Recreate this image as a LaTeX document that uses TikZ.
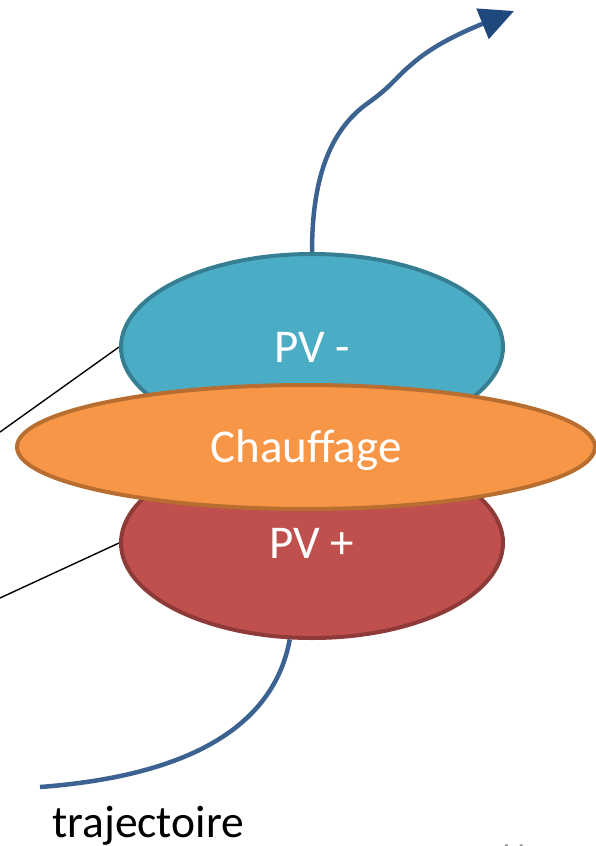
\documentclass[tikz,border=0pt]{standalone}
\usepackage{fontspec}
\setmainfont{Carlito}
\usetikzlibrary{shapes.geometric,arrows.meta,backgrounds}
\definecolor{bluefill}{HTML}{4BACC6}
\definecolor{bluedraw}{HTML}{367F93}
\definecolor{orfill}{HTML}{F79646}
\definecolor{ordraw}{HTML}{B86E30}
\definecolor{redfill}{HTML}{C0504D}
\definecolor{reddraw}{HTML}{8D3A38}
\definecolor{trajc}{HTML}{3B6291}
\definecolor{arrowc}{HTML}{1F497D}
\definecolor{pagenum}{HTML}{8C8C8C}
\tikzset{
  blob/.style={ellipse, line width=4pt, inner sep=0pt, text=white,
    font=\fontsize{47}{56}\selectfont, text height=30pt, text depth=0pt},
  traj/.style={draw=trajc, line width=4.5pt},
  leader/.style={draw=black, line width=1.4pt},
}
\begin{document}
\begin{tikzpicture}[x=1pt,y=-1pt]
\clip (0,0) rectangle (596,846);
% ellipses
\node[blob, fill=bluefill, draw=bluedraw, minimum width=382pt, minimum height=186pt] (pvm) at (312,347) {PV -};
\node[blob, fill=redfill, draw=reddraw, minimum width=382pt, minimum height=190pt] (pvp) at (312,543) {PV +};
\node[blob, fill=orfill, draw=ordraw, minimum width=578pt, minimum height=124pt] (ch) at (306,447) {Chauffage};
% free ends
\coordinate (tip) at (514,11);
\coordinate (tend) at (40,787);
\coordinate (l1) at (0,432);
\coordinate (l2) at (0,598);
% text
\node[anchor=base west, inner sep=0pt, font=\fontsize{45.5}{55}\selectfont] (traj) at (52,837) {trajectoire};
\node[anchor=base west, inner sep=0pt, text=pagenum, font=\fontsize{26}{30}\selectfont] (pnum) at (499,861) {14};
% connectors behind the ellipses
\begin{pgfonlayer}{background}
\draw[traj, -{Triangle[length=34pt,width=32pt,color=arrowc,fill=arrowc]}]
  (pvm.north) .. controls (312,178) and (330,130) .. (368,103)
  .. controls (392,86) and (395,78) .. (412,64)
  .. controls (430,48) and (455,35) .. (tip);
\draw[traj] (pvp.-103) .. controls (275,720) and (200,775) .. (tend);
\draw[leader] (l1) -- (pvm.west);
\draw[leader] (l2) -- (pvp.west);
\end{pgfonlayer}
\end{tikzpicture}
\end{document}
